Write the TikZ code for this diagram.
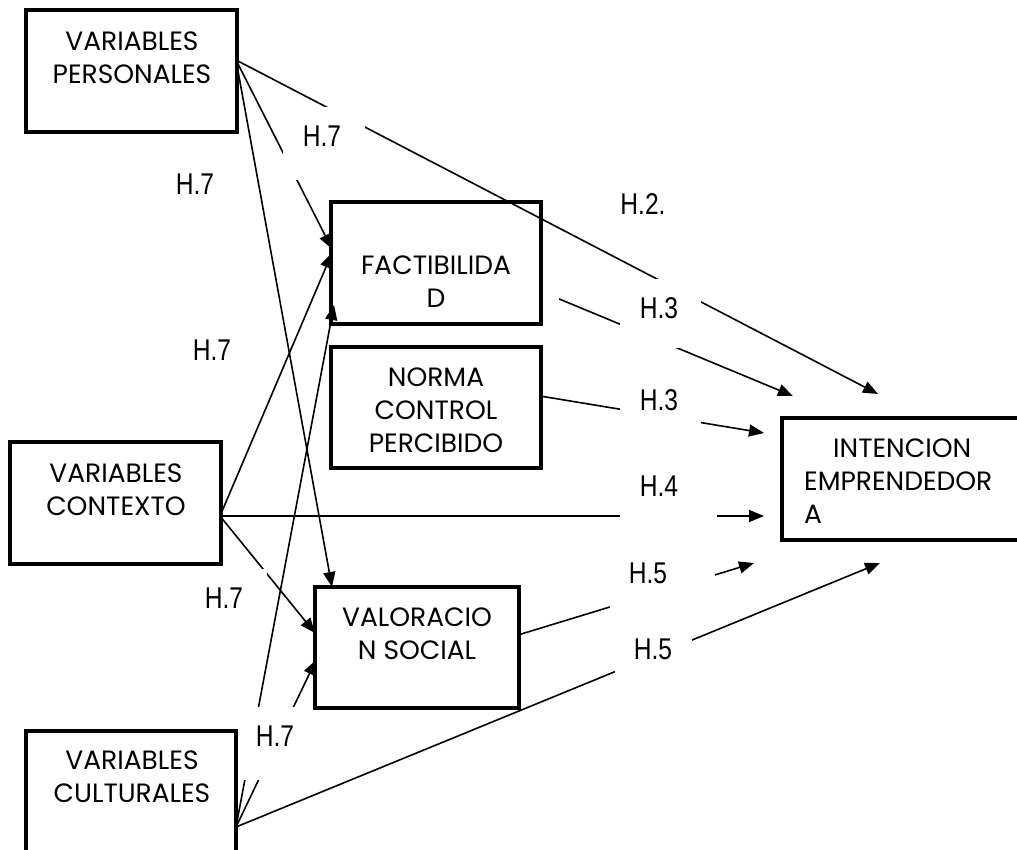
\documentclass[tikz,border=0pt]{standalone}
\usepackage{fontspec}
\setmainfont{Poppins}
\newfontfamily\lblfont[FakeStretch=0.82]{Liberation Sans}
\usetikzlibrary{arrows.meta}
\begin{document}
\begin{tikzpicture}[x=1pt,y=-1pt,
  box/.style={draw, line width=2.8pt, rectangle, inner sep=0pt},
  btxt/.style={font=\fontsize{26.5}{33}\selectfont, align=center, inner sep=0pt, anchor=north},
  hl/.style={font=\lblfont\fontsize{30}{36}\selectfont, inner sep=0pt},
  conn/.style={line width=1.6pt, -{Triangle[length=15pt,width=12pt]}},
  mask/.style={fill=white}
]
\useasboundingbox (0,0) rectangle (1017,850);
\fill[white] (0,0) rectangle (1017,850);
\clip (0,0) rectangle (1017,850);

% boxes (geometry first, for anchors)
\node[box, minimum width=209pt, minimum height=120pt] (vp) at (131.5,71) {};
\node[box, minimum width=208pt, minimum height=120pt] (fact) at (436,263) {};
\node[box, minimum width=208pt, minimum height=119pt] (norma) at (436,407.5) {};
\node[box, minimum width=317pt, minimum height=120pt] (int) at (941.5,479) {};
\node[box, minimum width=209pt, minimum height=120pt] (vc) at (115.5,503) {};
\node[box, minimum width=202pt, minimum height=119pt] (val) at (417,647.5) {};
\node[box, minimum width=208pt, minimum height=168pt] (vcu) at (131,816) {};

% connector ends
\coordinate (vpo) at (236,60);
\coordinate (vco) at (220,516);
\coordinate (vcuo) at (236,827);
\coordinate (facto) at (540,291);
\coordinate (normao) at (540,396);
\coordinate (valo) at (518,635);
\coordinate (fact-a) at (332,249);
\coordinate (fact-b) at (332,253);
\coordinate (fact-c) at (334,305);
\coordinate (val-a) at (332,587);
\coordinate (val-b) at (315,633);
\coordinate (val-c) at (316,660);
\coordinate (int-a) at (878,394);
\coordinate (int-b) at (793,396);
\coordinate (int-c) at (764,433);
\coordinate (int-d) at (764,516);
\coordinate (int-e) at (754,563);
\coordinate (int-f) at (880,563);

% connectors
\draw[conn] (vpo) -- (int-a);
\draw[conn] (vpo) -- (fact-a);
\draw[conn] (vpo) -- (val-a);
\draw[conn] (vco) -- (fact-b);
\draw[conn] (vco) -- (int-d);
\draw[conn] (vco) -- (val-b);
\draw[conn] (vcuo) -- (fact-c);
\draw[conn] (vcuo) -- (val-c);
\draw[conn] (vcuo) -- (int-f);
\draw[conn] (facto) -- (int-b);
\draw[conn] (normao) -- (int-c);
\draw[conn] (valo) -- (int-e);

% white label areas that interrupt the connectors
\fill[mask] (283,107) rectangle (365,180);
\fill[mask] (542,282) rectangle (559,306);
\fill[mask] (620,279) rectangle (701,348);
\fill[mask] (620,362) rectangle (701,455);
\fill[mask] (620,460) rectangle (717,530);
\fill[mask] (610,548) rectangle (715,628);
\fill[mask] (615,634) rectangle (692,700);
\fill[mask] (185,569) rectangle (267,630);
\fill[mask] (237,707) rectangle (315,780);

% redraw boxes on top
\foreach \n in {vp,fact,norma,int,vc,val,vcu}
  \draw[line width=2.8pt] (\n.north west) rectangle (\n.south east);

% box texts
\node[btxt] (vp-t) at (132,32) {VARIABLES\\PERSONALES};
\node[btxt] (fact-t) at (436,256) {FACTIBILIDA\\D};
\node[btxt] (norma-t) at (436,367.5) {NORMA\\CONTROL\\PERCIBIDO};
\node[btxt, anchor=north west, align=left] (int-t) at (804,439) {\makebox[196pt]{INTENCION}\\EMPRENDEDOR\\A};
\node[btxt] (vc-t) at (116,463.5) {VARIABLES\\CONTEXTO};
\node[btxt] (val-t) at (417,607.5) {VALORACIO\\N SOCIAL};
\node[btxt] (vcu-t) at (132,750.5) {VARIABLES\\CULTURALES};

% hypothesis labels
\node[hl] (l1) at (322,136) {H.7};
\node[hl] (l2) at (195,184) {H.7};
\node[hl] (l3) at (643,204) {H.2.};
\node[hl] (l4) at (659,308) {H.3};
\node[hl] (l5) at (659,400) {H.3};
\node[hl] (l6) at (659,486) {H.4};
\node[hl] (l7) at (648,573) {H.5};
\node[hl] (l8) at (653,649) {H.5};
\node[hl] (l9) at (212,350) {H.7};
\node[hl] (l10) at (224,598) {H.7};
\node[hl] (l11) at (275,736) {H.7};
\end{tikzpicture}
\end{document}
